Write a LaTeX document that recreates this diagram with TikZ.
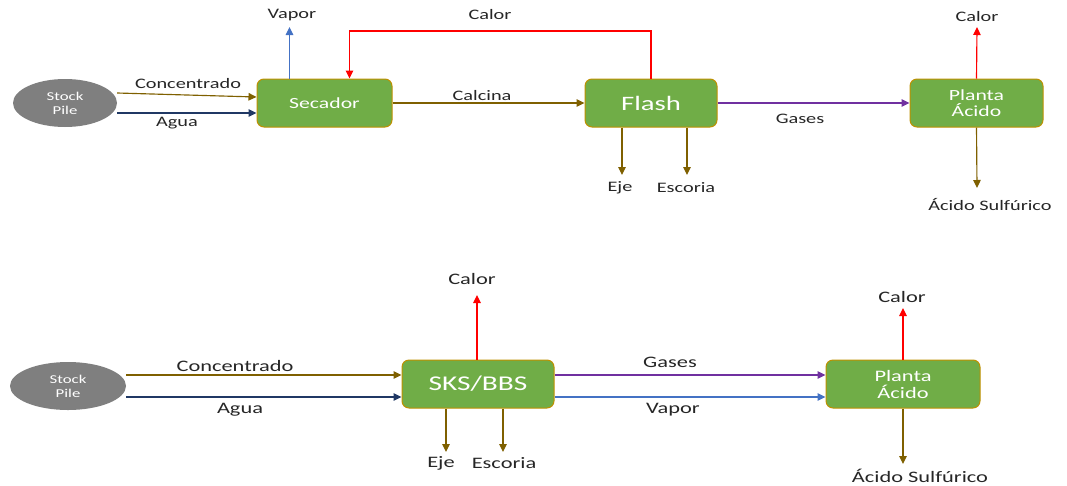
\documentclass[tikz,border=0pt]{standalone}
\usepackage{fontspec}
\setmainfont{Carlito}[FakeStretch=1.4]
\usetikzlibrary{arrows.meta, shapes.geometric}

\definecolor{leaf}{HTML}{70AD47}
\definecolor{gold}{HTML}{BF9000}
\definecolor{ash}{HTML}{7F7F7F}
\definecolor{mud}{HTML}{7F6000}
\definecolor{navy}{HTML}{203864}
\definecolor{sky}{HTML}{4472C4}
\definecolor{heat}{HTML}{FF0000}
\definecolor{fume}{HTML}{7030A0}
\definecolor{ink}{HTML}{262626}

\begin{document}
\begin{tikzpicture}[x=1pt, y=-1pt,
    proc/.style={draw=gold, line width=1pt, fill=leaf, rounded corners=7pt,
      text=white, minimum height=48pt, inner sep=0pt, align=center},
    pile/.style={ellipse, fill=ash, text=white, inner sep=0pt, align=center,
      font=\fontsize{12}{14}\selectfont},
    flow/.style={line width=1.15pt, -{Triangle[length=8pt,width=7.5pt]}},
    lbl/.style={text=ink, inner sep=0pt, font=\fontsize{14.5}{16}\selectfont},
    lblb/.style={lbl, font=\fontsize{16}{18}\selectfont}]
  \useasboundingbox (0,0) rectangle (1067,485);

  % 1. linea de arriba: secador + flash + planta
  \node[pile, minimum width=104pt, minimum height=48pt] (pileA) at (65,103) {Stock\\Pile};
  \node[proc, minimum width=135pt, font=\fontsize{15.5}{17}\selectfont] (secador) at (324.5,103) {Secador};
  \node[proc, minimum width=132pt, font=\fontsize{20.5}{22}\selectfont] (flash) at (651,103) {Flash};
  \node[proc, minimum width=133pt, font=\fontsize{15.5}{16}\selectfont] (plantaA) at (976.5,103) {Planta\\Ácido};

  \coordinate (vaporTipA) at (289.5,27);
  \coordinate (loopTop) at (651,31);
  \coordinate (calorTipA) at (977,27);
  \coordinate (acidoTipA) at (977,188);
  \coordinate (ejeTipA) at (622,175);
  \coordinate (escoriaTipA) at (687,175);

  \node[lbl] (concA) at (188,84) {Concentrado};
  \node[lbl] (aguaA) at (177,123) {Agua};
  \node[lbl] (vaporA) at (292,15) {Vapor};
  \node[lbl] (calorLoop) at (490,15) {Calor};
  \node[lbl] (calcina) at (482,96) {Calcina};
  \node[lbl] (gasesA) at (800,119) {Gases};
  \node[lbl] (calorA) at (977,17) {Calor};
  \node[lbl] (acidoA) at (990,204) {Ácido Sulfúrico};
  \node[lbl] (ejeA) at (620,188) {Eje};
  \node[lbl] (escoriaA) at (686,188) {Escoria};

  \draw[flow, draw=mud] ([yshift=10pt]pileA.east) -- ([yshift=6pt]secador.west);
  \draw[flow, draw=navy] ([yshift=-10pt]pileA.east) -- ([yshift=-10pt]secador.west);
  \draw[flow, draw=sky] ([xshift=-35pt]secador.north) -- (vaporTipA);
  \draw[flow, draw=heat] (flash.north) -- (loopTop) -| ([xshift=25pt]secador.north);
  \draw[flow, draw=mud] (secador.east) -- (flash.west);
  \draw[flow, draw=fume] (flash.east) -- (plantaA.west);
  \draw[flow, draw=heat] (plantaA.north) -- (calorTipA);
  \draw[flow, draw=mud] (plantaA.south) -- (acidoTipA);
  \draw[flow, draw=mud] ([xshift=-29pt]flash.south) -- (ejeTipA);
  \draw[flow, draw=mud] ([xshift=36pt]flash.south) -- (escoriaTipA);

  % 2. linea de abajo: SKS/BBS + planta
  \node[pile, minimum width=116pt, minimum height=48pt] (pileB) at (68,386) {Stock\\Pile};
  \node[proc, minimum width=152pt, font=\fontsize{21}{23}\selectfont] (sks) at (478,384) {SKS/BBS};
  \node[proc, minimum width=154pt, font=\fontsize{16}{17}\selectfont] (plantaB) at (903,384) {Planta\\Ácido};

  \coordinate (calorTipS) at (477,295);
  \coordinate (ejeTipB) at (446,452);
  \coordinate (escoriaTipB) at (503,452);
  \coordinate (calorTipB) at (903,308);
  \coordinate (acidoTipB) at (903,464);

  \node[lblb] (concB) at (235,366) {Concentrado};
  \node[lblb] (aguaB) at (240,410) {Agua};
  \node[lblb] (calorS) at (472,279) {Calor};
  \node[lblb] (ejeB) at (441,463) {Eje};
  \node[lblb] (escoriaB) at (504,463) {Escoria};
  \node[lblb] (gasesB) at (670,362) {Gases};
  \node[lblb] (vaporB) at (673,410) {Vapor};
  \node[lblb] (calorB) at (902,297) {Calor};
  \node[lblb] (acidoB) at (920,476) {Ácido Sulfúrico};

  \draw[flow, draw=mud] ([yshift=11pt]pileB.east) -- ([yshift=9pt]sks.west);
  \draw[flow, draw=navy] ([yshift=-11pt]pileB.east) -- ([yshift=-13pt]sks.west);
  \draw[flow, draw=heat] ([xshift=-1pt]sks.north) -- (calorTipS);
  \draw[flow, draw=mud] ([xshift=-32pt]sks.south) -- (ejeTipB);
  \draw[flow, draw=mud] ([xshift=25pt]sks.south) -- (escoriaTipB);
  \draw[flow, draw=fume] ([yshift=9pt]sks.east) -- ([yshift=9pt]plantaB.west);
  \draw[flow, draw=sky] ([yshift=-13pt]sks.east) -- ([yshift=-13pt]plantaB.west);
  \draw[flow, draw=heat] (plantaB.north) -- (calorTipB);
  \draw[flow, draw=mud] (plantaB.south) -- (acidoTipB);
\end{tikzpicture}
\end{document}
